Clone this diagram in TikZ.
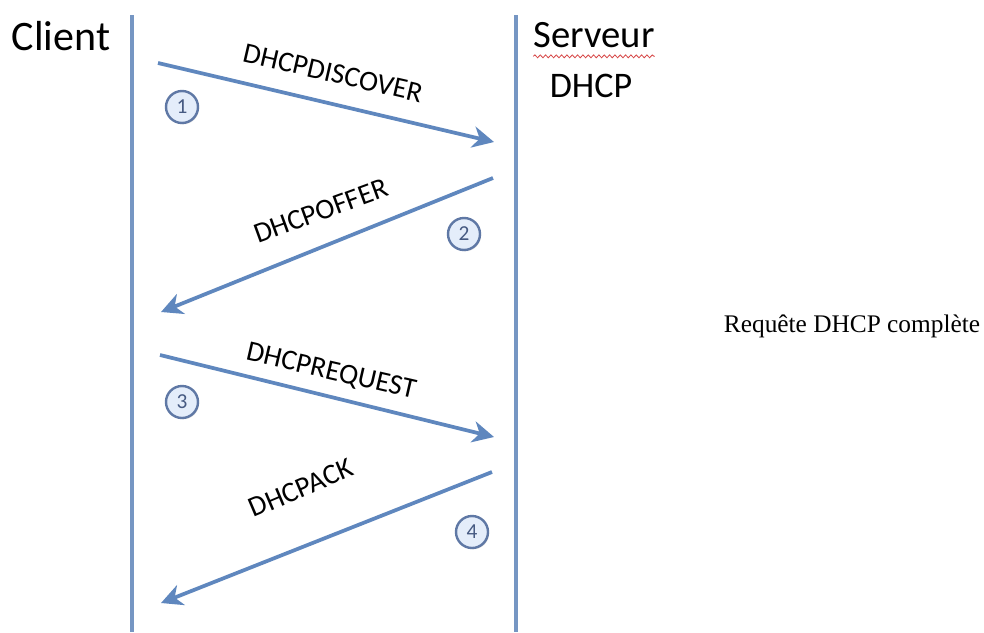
\documentclass[tikz,border=0pt]{standalone}
\usepackage{fontspec}
\setmainfont{Carlito}
\newfontfamily\timesfont{Liberation Serif}
\usetikzlibrary{arrows.meta,decorations.pathmorphing,shadows}
\definecolor{lifeline}{RGB}{118,150,195}
\definecolor{msgblue}{RGB}{95,135,190}
\definecolor{ringblue}{RGB}{95,120,165}
\definecolor{numblue}{RGB}{70,90,130}
\definecolor{fillblue}{RGB}{228,237,250}
\definecolor{wavered}{RGB}{215,70,70}
\tikzset{
  lifelinestyle/.style={draw=lifeline, line width=3pt},
  msgstyle/.style={draw=msgblue, line width=2.8pt,
    -{Stealth[length=16pt,width=16pt,inset=5pt]}},
  msglabel/.style={font=\fontsize{21.5}{24}\selectfont, text=black, inner sep=0pt},
  actor/.style={font=\fontsize{29}{32}\selectfont, text=black, inner sep=0pt, anchor=base},
  stepnum/.style={circle, draw=ringblue, line width=1.8pt, fill=fillblue,
    minimum size=24pt, inner sep=0pt, text=numblue,
    font=\fontsize{16}{18}\selectfont,
    drop shadow={shadow xshift=0.8pt, shadow yshift=-1pt, opacity=0.25}},
}
\begin{document}
\begin{tikzpicture}[x=0.75pt,y=0.75pt]
\useasboundingbox[fill=white] (0,0) rectangle (984,-632);
% lifelines
\coordinate (ctop) at (132,-15);
\coordinate (cbot) at (132,-632);
\coordinate (stop) at (516,-15);
\coordinate (sbot) at (516,-632);
\draw[lifelinestyle] (ctop) -- (cbot);
\draw[lifelinestyle] (stop) -- (sbot);
% actors
\node[actor, font=\fontsize{31.5}{34}\selectfont] (client) at (61,-50) {Client};
\node[actor] (serveur) at (594,-47) {Serveur};
\node[actor, font=\fontsize{27}{30}\selectfont] (dhcp) at (591,-97) {DHCP};
\draw[wavered, line width=0.6pt, decorate,
  decoration={snake, amplitude=1.1pt, segment length=4pt}]
  ([yshift=-7pt]serveur.base west) -- ([yshift=-7pt]serveur.base east);
% message endpoints
\coordinate (m1s) at (158,-63);
\coordinate (m1e) at (494,-142);
\coordinate (m2s) at (493,-178);
\coordinate (m2e) at (161,-312);
\coordinate (m3s) at (160,-355);
\coordinate (m3e) at (494,-437);
\coordinate (m4s) at (492,-472);
\coordinate (m4e) at (161,-603);
\draw[msgstyle] (m1s) -- (m1e);
\draw[msgstyle] (m2s) -- (m2e);
\draw[msgstyle] (m3s) -- (m3e);
\draw[msgstyle] (m4s) -- (m4e);
% labels
\node[msglabel, rotate=-13] (l1) at (333,-73) {DHCPDISCOVER};
\node[msglabel, rotate=20] (l2) at (321,-211) {DHCPOFFER};
\node[msglabel, rotate=-13] (l3) at (331,-372) {DHCPREQUEST};
\node[msglabel, rotate=23] (l4) at (301,-488) {DHCPACK};
% step numbers
\node[stepnum] (n1) at (182,-107) {1};
\node[stepnum] (n2) at (464,-234) {2};
\node[stepnum] (n3) at (182,-402) {3};
\node[stepnum] (n4) at (472,-532) {4};
% caption
\node[font=\timesfont\fontsize{19}{22}\selectfont, anchor=base, inner sep=0pt] (caption) at (852,-332) {Requête DHCP complète};
\end{tikzpicture}
\end{document}
